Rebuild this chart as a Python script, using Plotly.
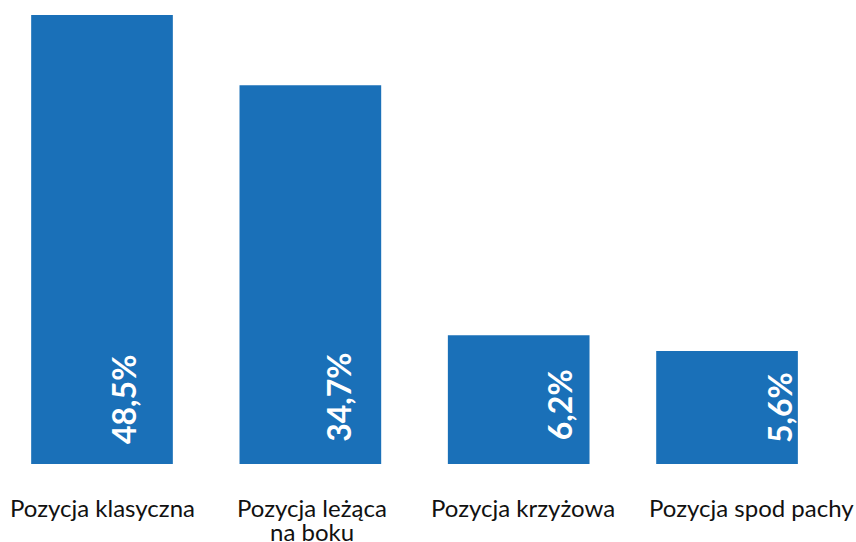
import plotly.graph_objects as go

# category labels (two lines where the original wraps)
label_line1 = ["Pozycja klasyczna", "Pozycja leżąca", "Pozycja krzyżowa", "Pozycja spod pachy"]
label_line2 = ["", "na boku", "", ""]
# bar heights as drawn (not proportional to the printed percentages)
bar_heights = [48.5, 40.9, 13.9, 12.2]
value_labels = ["48,5%", "34,7%", "6,2%", "5,6%"]

# pixel nudges for the text
value_dx = [21.5, 28, 41, 52.5]
value_dy = [18, 20, 22, 19]
cat_dx = [0, 2, 4, 24]

blue = "#1a70b8"
xs = list(range(len(label_line1)))

fig = go.Figure()
fig.add_trace(go.Bar(
    x=xs,
    y=bar_heights,
    marker=dict(color=blue, line=dict(width=0)),
    width=0.68,
    hoverinfo="skip",
))

for i in xs:
    fig.add_annotation(
        x=i, y=0, text="<b>" + value_labels[i] + "</b>", textangle=-90,
        showarrow=False, xanchor="center", yanchor="bottom",
        xshift=value_dx[i], yshift=value_dy[i],
        font=dict(family="Lato", size=32, color="white"),
    )
    fig.add_annotation(
        x=i, y=0, text=label_line1[i], showarrow=False,
        xanchor="center", yanchor="middle", xshift=cat_dx[i], yshift=-43.5,
        font=dict(family="Lato", size=24, color="#111111"),
    )
    if label_line2[i]:
        fig.add_annotation(
            x=i, y=0, text=label_line2[i], showarrow=False,
            xanchor="center", yanchor="middle", xshift=cat_dx[i], yshift=-67.5,
            font=dict(family="Lato", size=24, color="#111111"),
        )

fig.update_layout(
    width=856, height=542,
    margin=dict(l=0, r=0, t=0, b=78),
    paper_bgcolor="white", plot_bgcolor="white",
    showlegend=False,
)
fig.update_xaxes(range=[-0.4896, 3.619], showticklabels=False,
                 showgrid=False, zeroline=False, showline=False, ticks="")
fig.update_yaxes(range=[0, 50.12], visible=False, showgrid=False, zeroline=False)

# drop the default 8px body margin so the figure fills the window
fig.write_html("out.html", config={"displayModeBar": False},
               post_script="document.body.style.margin='0';document.body.style.overflow='hidden';")
